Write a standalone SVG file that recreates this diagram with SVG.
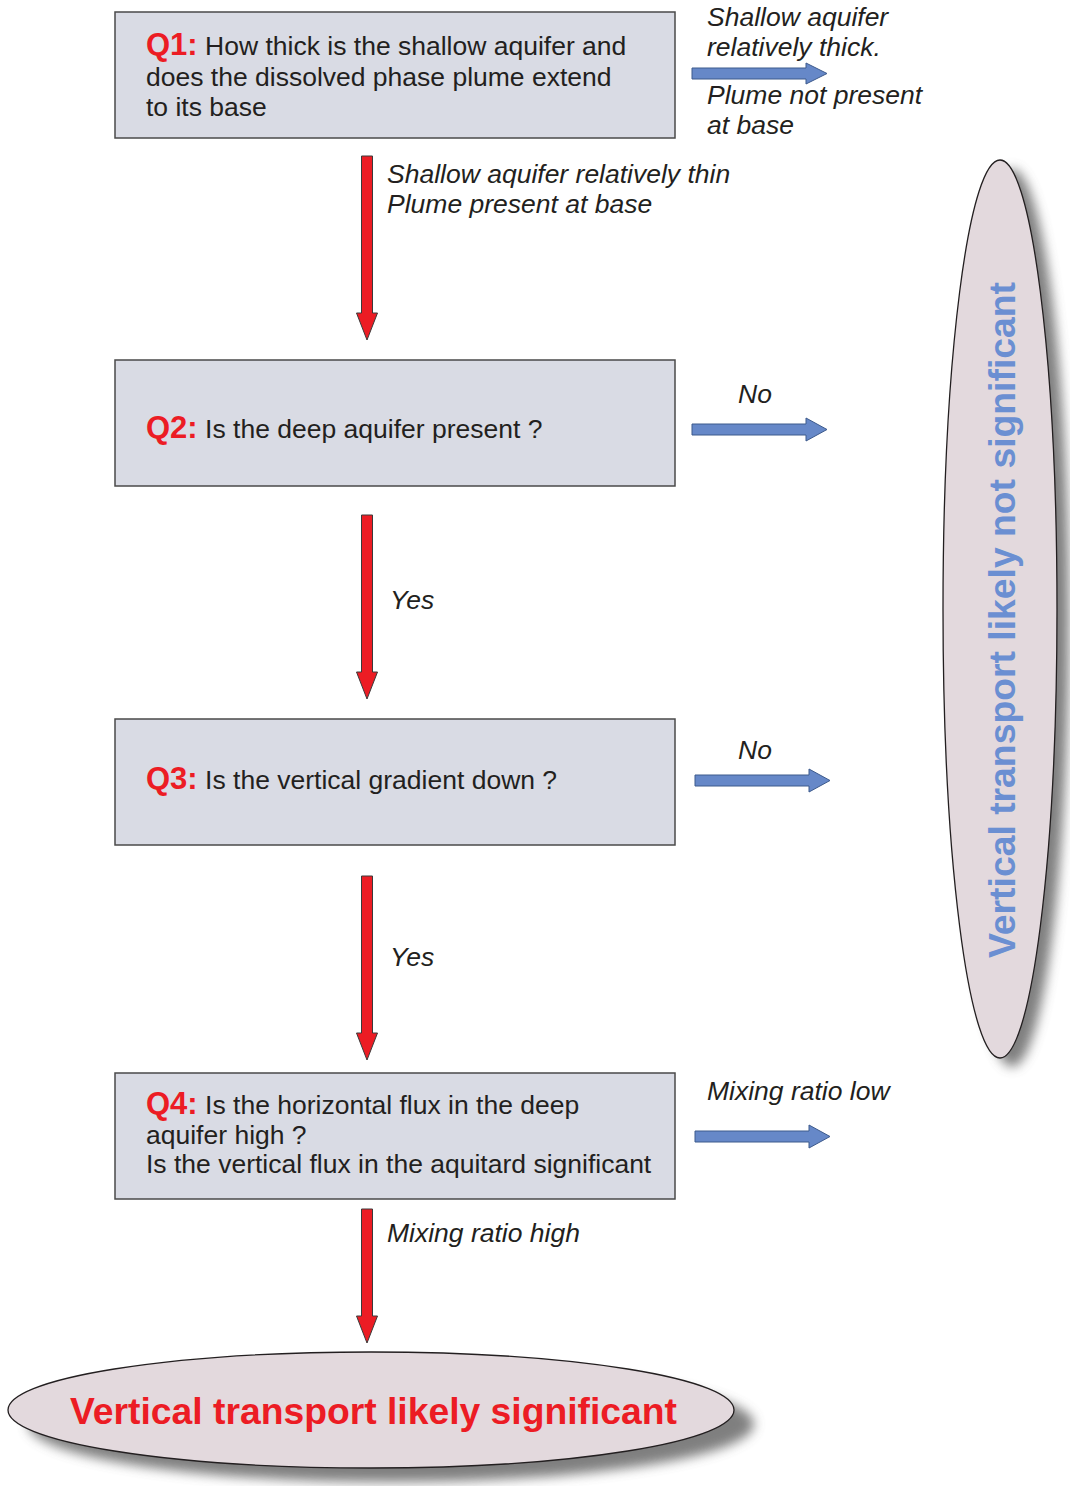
<svg xmlns="http://www.w3.org/2000/svg" width="1070" height="1486" viewBox="0 0 1070 1486">
<defs>
<style>
.box{fill:#d9dbe4;stroke:#4a4a4a;stroke-width:1.5}
.q{font-family:"Liberation Sans",Arial,sans-serif;font-size:26.5px;fill:#231f20}
.qh{fill:#ec1c24;font-weight:bold;font-size:31px}
.lbl{font-family:"Liberation Sans",Arial,sans-serif;font-size:26.5px;font-style:italic;fill:#231f20}
.red{fill:#ec1c24;stroke:#3a3a3a;stroke-width:1}
.blue{fill:#6688c8;stroke:#3d5a8c;stroke-width:1}
.ell{fill:#e3d9dd;stroke:#231f20;stroke-width:1.3}
</style>
<filter id="sh" x="-20%" y="-20%" width="140%" height="140%">
<feGaussianBlur stdDeviation="6"/>
</filter>
</defs>

<g id="q1">
<rect class="box" x="115" y="12" width="560" height="126"/>
<text class="q" x="146" y="55"><tspan class="qh">Q1:</tspan> How thick is the shallow aquifer and</text>
<text class="q" x="146" y="86">does the dissolved phase plume extend</text>
<text class="q" x="146" y="116">to its base</text>
</g>

<g id="q2">
<rect class="box" x="115" y="360" width="560" height="126"/>
<text class="q" x="146" y="438"><tspan class="qh">Q2:</tspan> Is the deep aquifer present ?</text>
</g>

<g id="q3">
<rect class="box" x="115" y="719" width="560" height="126"/>
<text class="q" x="146" y="789"><tspan class="qh">Q3:</tspan> Is the vertical gradient down ?</text>
</g>

<g id="q4">
<rect class="box" x="115" y="1073" width="560" height="126"/>
<text class="q" x="146" y="1114"><tspan class="qh">Q4:</tspan> Is the horizontal flux in the deep</text>
<text class="q" x="146" y="1144">aquifer high ?</text>
<text class="q" x="146" y="1173">Is the vertical flux in the aquitard significant</text>
</g>

<g id="not-significant">
<ellipse cx="1012" cy="618" rx="57" ry="449" fill="#555" opacity="0.75" filter="url(#sh)"/>
<ellipse class="ell" cx="1000" cy="609" rx="57" ry="449"/>
<text x="0" y="0" transform="translate(1015,958) rotate(-90)" font-family="'Liberation Sans',Arial,sans-serif" font-size="37" font-weight="bold" fill="#6b8fd2" textLength="676" lengthAdjust="spacingAndGlyphs">Vertical transport likely not significant</text>
</g>

<g id="significant">
<ellipse cx="391" cy="1424" rx="363" ry="58" fill="#555" opacity="0.75" filter="url(#sh)"/>
<ellipse class="ell" cx="371" cy="1410" rx="363" ry="58"/>
<text x="70" y="1424" font-family="'Liberation Sans',Arial,sans-serif" font-size="37" font-weight="bold" fill="#ec1c24" textLength="607" lengthAdjust="spacingAndGlyphs">Vertical transport likely significant</text>
</g>

<g id="connectors">
<path class="blue" d="M692,68 H806 V63 L827,73.5 L806,84 V79 H692 Z"/>
<path class="blue" d="M692,424 H806 V418 L827,429.5 L806,441 V435 H692 Z"/>
<path class="blue" d="M695,775 H809 V769 L830,780.5 L809,792 V786 H695 Z"/>
<path class="blue" d="M695,1131 H809 V1125 L830,1136.5 L809,1148 V1142 H695 Z"/>
<path class="red" d="M361.5,156 H372.5 V313 H377.5 L367,340 L356.5,313 H361.5 Z"/>
<path class="red" d="M361.5,515 H372.5 V672 H377.5 L367,699 L356.5,672 H361.5 Z"/>
<path class="red" d="M361.5,876 H372.5 V1033 H377.5 L367,1060 L356.5,1033 H361.5 Z"/>
<path class="red" d="M361.5,1209 H372.5 V1316 H377.5 L367,1343 L356.5,1316 H361.5 Z"/>
<text class="lbl" x="707" y="26">Shallow aquifer</text>
<text class="lbl" x="707" y="56">relatively thick.</text>
<text class="lbl" x="707" y="104">Plume not present</text>
<text class="lbl" x="707" y="134">at base</text>
<text class="lbl" x="387" y="183">Shallow aquifer relatively thin</text>
<text class="lbl" x="387" y="213">Plume present at base</text>
<text class="lbl" x="738" y="403">No</text>
<text class="lbl" x="390" y="609">Yes</text>
<text class="lbl" x="738" y="759">No</text>
<text class="lbl" x="390" y="966">Yes</text>
<text class="lbl" x="707" y="1100">Mixing ratio low</text>
<text class="lbl" x="387" y="1242">Mixing ratio high</text>
</g>
</svg>
